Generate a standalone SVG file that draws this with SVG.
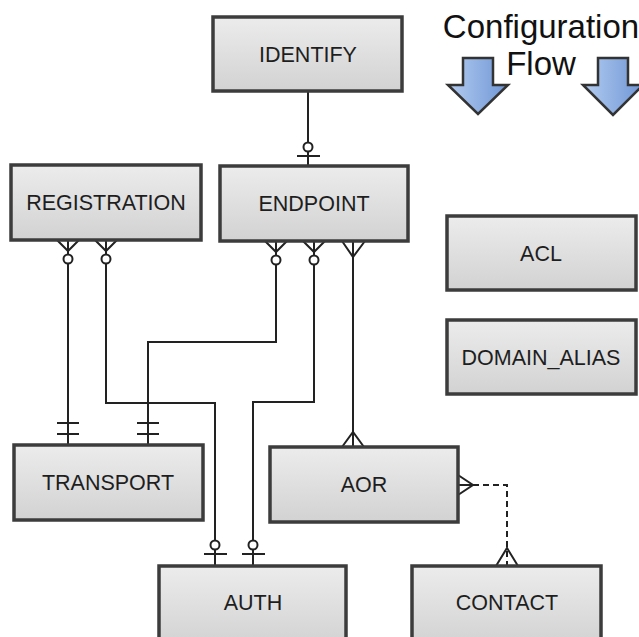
<svg xmlns="http://www.w3.org/2000/svg" width="639" height="637" viewBox="0 0 639 637">
  <defs>
    <linearGradient id="boxGrad" x1="0" y1="0" x2="0" y2="1">
      <stop offset="0" stop-color="#ececec"/>
      <stop offset="1" stop-color="#d2d2d2"/>
    </linearGradient>
    <linearGradient id="arrowGrad" x1="0" y1="0" x2="1" y2="0">
      <stop offset="0" stop-color="#b4cdf0"/>
      <stop offset="1" stop-color="#6e95d6"/>
    </linearGradient>
  </defs>
  <style>
    .box { fill: url(#boxGrad); stroke: #3c3c3c; stroke-width: 3.5; }
    .lbl { font-family: "Liberation Sans", Arial, sans-serif; font-size: 21.5px; fill: #1e1e1e; text-anchor: middle; }
    .title { font-family: "Liberation Sans", Arial, sans-serif; font-size: 33px; fill: #111; text-anchor: middle; }
    .ln { fill: none; stroke: #222; stroke-width: 2; }
    .dash { fill: none; stroke: #222; stroke-width: 2; stroke-dasharray: 6 4; }
    .circ { fill: #fff; stroke: #222; stroke-width: 2; }
    .arrow { fill: url(#arrowGrad); stroke: #333; stroke-width: 2.5; stroke-linejoin: miter; }
  </style>

  <g id="title">
    <text class="title" x="541" y="38">Configuration</text>
    <text class="title" x="541" y="75">Flow</text>
    <polygon class="arrow" points="463,58 493,58 493,85 508,85 478,114 448,85 463,85"/>
    <polygon class="arrow" points="598,58 628,58 628,85 643,85 613,115 583,85 598,85"/>
  </g>

  <g id="connectors">
    <!-- IDENTIFY -> ENDPOINT -->
    <path class="ln" d="M308,91 V166"/>
    <path class="ln" d="M297,156 H320"/>
    <circle class="circ" cx="308" cy="147" r="4.5"/>

    <!-- REGISTRATION (68) -> TRANSPORT (68) -->
    <path class="ln" d="M68,240 V445"/>
    <path class="ln" d="M57,240 L68,251 L79,240"/>
    <circle class="circ" cx="68" cy="259" r="4.5"/>
    <path class="ln" d="M57,423 H79 M57,434 H79"/>

    <!-- REGISTRATION (106) -> AUTH (215) -->
    <path class="ln" d="M106,240 V403 H215 V566"/>
    <path class="ln" d="M95,240 L106,251 L117,240"/>
    <circle class="circ" cx="106" cy="259" r="4.5"/>
    <path class="ln" d="M204,554 H227"/>
    <circle class="circ" cx="215" cy="545" r="4.5"/>

    <!-- ENDPOINT (276) -> TRANSPORT (148) -->
    <path class="ln" d="M276,241 V342 H148 V445"/>
    <path class="ln" d="M265,241 L276,252 L287,241"/>
    <circle class="circ" cx="276" cy="260" r="4.5"/>
    <path class="ln" d="M137,423 H159 M137,434 H159"/>

    <!-- ENDPOINT (314) -> AUTH (253) -->
    <path class="ln" d="M314,241 V402 H253 V566"/>
    <path class="ln" d="M303,241 L314,252 L325,241"/>
    <circle class="circ" cx="314" cy="260" r="4.5"/>
    <path class="ln" d="M242,554 H265"/>
    <circle class="circ" cx="253" cy="545" r="4.5"/>

    <!-- ENDPOINT (353) -> AOR (353) -->
    <path class="ln" d="M353,241 V447"/>
    <path class="ln" d="M342,241 L353,257 L365,241"/>
    <path class="ln" d="M342,447 L353,432 L364,447"/>

    <!-- AOR -> CONTACT (dashed) -->
    <path class="ln" d="M458,485 H473"/>
    <path class="ln" d="M458,475 L473,485 L458,495"/>
    <path class="dash" d="M473,485 H507 V566"/>
    <path class="ln" d="M496,566 L507,548 L518,566"/>
  </g>

  <g id="IDENTIFY">
    <rect class="box" x="213" y="17" width="189" height="74"/>
    <text class="lbl" x="308" y="62">IDENTIFY</text>
  </g>
  <g id="REGISTRATION">
    <rect class="box" x="11" y="165" width="190" height="75"/>
    <text class="lbl" x="106" y="210">REGISTRATION</text>
  </g>
  <g id="ENDPOINT">
    <rect class="box" x="220" y="166" width="188" height="75"/>
    <text class="lbl" x="314" y="211">ENDPOINT</text>
  </g>
  <g id="ACL">
    <rect class="box" x="447" y="216" width="189" height="74"/>
    <text class="lbl" x="541" y="261">ACL</text>
  </g>
  <g id="DOMAIN_ALIAS">
    <rect class="box" x="447" y="320" width="189" height="74"/>
    <text class="lbl" x="541" y="365">DOMAIN_ALIAS</text>
  </g>
  <g id="TRANSPORT">
    <rect class="box" x="14" y="445" width="189" height="75"/>
    <text class="lbl" x="108" y="490">TRANSPORT</text>
  </g>
  <g id="AOR">
    <rect class="box" x="270" y="447" width="188" height="75"/>
    <text class="lbl" x="364" y="492">AOR</text>
  </g>
  <g id="AUTH">
    <rect class="box" x="159" y="566" width="187" height="80"/>
    <text class="lbl" x="253" y="610">AUTH</text>
  </g>
  <g id="CONTACT">
    <rect class="box" x="412" y="566" width="189" height="80"/>
    <text class="lbl" x="507" y="610">CONTACT</text>
  </g>
</svg>
